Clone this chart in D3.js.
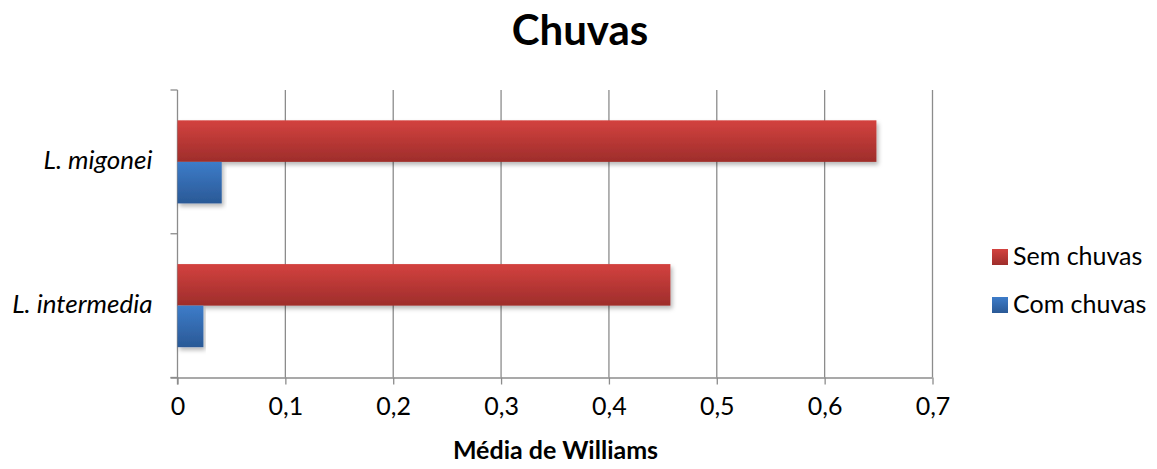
<!DOCTYPE html>
<html>
<head>
<meta charset="utf-8">
<script src="https://cdn.jsdelivr.net/npm/d3@7"></script>
<style>
  html, body { margin: 0; padding: 0; background: #fff; }
  svg { display: block; font-family: Lato, "Open Sans", sans-serif; }
</style>
</head>
<body>
<svg id="chart" width="1157" height="469"></svg>
<script>
// Chart data
const categories = ["L. migonei", "L. intermedia"];
const seriesNames = ["Sem chuvas", "Com chuvas"];
const semChuvas = [0.648, 0.457];
const comChuvas = [0.041, 0.024];
const xTicks = [0, 0.1, 0.2, 0.3, 0.4, 0.5, 0.6, 0.7];
const xTickLabels = ["0", "0,1", "0,2", "0,3", "0,4", "0,5", "0,6", "0,7"];
const chartTitle = "Chuvas";
const xAxisTitle = "Média de Williams";

const seriesValues = [semChuvas, comChuvas];
const rows = categories.map((c, i) => ({
  category: c,
  values: seriesNames.map((s, j) => ({ series: s, value: seriesValues[j][i] }))
}));

const svg = d3.select("#chart");
const plot = { left: 177.5, right: 932.5, top: 90, bottom: 377.5 };
const gridColor = "#8c8c8c";

// Gradients and shadow
const defs = svg.append("defs");
const grads = {
  "Sem chuvas": ["#d3423f", "#9e2d2b"],
  "Com chuvas": ["#3d7cc9", "#2a5996"]
};
const gradId = s => "grad-" + s.replace(/\s+/g, "-");
seriesNames.forEach(s => {
  const g = defs.append("linearGradient").attr("id", gradId(s))
    .attr("x1", 0).attr("y1", 0).attr("x2", 0).attr("y2", 1);
  g.append("stop").attr("offset", "0%").attr("stop-color", grads[s][0]);
  g.append("stop").attr("offset", "100%").attr("stop-color", grads[s][1]);
});
const shadow = defs.append("filter").attr("id", "shadow")
  .attr("x", "-5%").attr("y", "-20%").attr("width", "115%").attr("height", "160%");
shadow.append("feDropShadow").attr("dx", 2).attr("dy", 3)
  .attr("stdDeviation", 2.2).attr("flood-color", "#000").attr("flood-opacity", 0.28);

// Scales
const x = d3.scaleLinear().domain([0, 0.7]).range([plot.left, plot.right]);
const y = d3.scaleBand().domain(categories).range([plot.top, plot.bottom]).padding(0);
const ySeries = d3.scaleBand().domain(seriesNames).range([0, y.bandwidth()])
  .paddingInner(0).paddingOuter(0.73);

// Vertical gridlines
svg.append("g").selectAll("line").data(xTicks.slice(1)).join("line")
  .attr("x1", d => x(d)).attr("x2", d => x(d))
  .attr("y1", plot.top).attr("y2", plot.bottom)
  .attr("stroke", gridColor).attr("stroke-width", 1.3);

// X axis
const xAxis = svg.append("g").attr("transform", `translate(0,${plot.bottom})`)
  .call(d3.axisBottom(x).tickValues(xTicks).tickFormat((d, i) => xTickLabels[i])
    .tickSizeInner(7).tickSizeOuter(0).tickPadding(13));
xAxis.select(".domain").attr("stroke", gridColor).attr("stroke-width", 1.3)
  .attr("d", `M${plot.left - 7},0.5H${plot.right}`);
xAxis.selectAll(".tick line").attr("stroke", gridColor).attr("stroke-width", 1.3);
xAxis.selectAll(".tick text").attr("fill", "#000")
  .style("font-size", "25px").style("font-family", "Lato, sans-serif");

// Y axis
const yAxis = svg.append("g").attr("transform", `translate(${plot.left},0)`);
yAxis.append("line").attr("x1", 0).attr("x2", 0)
  .attr("y1", plot.top).attr("y2", plot.bottom + 7)
  .attr("stroke", gridColor).attr("stroke-width", 1.3);
const yEdges = [plot.top, ...categories.map(c => y(c) + y.bandwidth())];
yAxis.selectAll("line.tick").data(yEdges).join("line").attr("class", "tick")
  .attr("x1", -7).attr("x2", 0).attr("y1", d => d).attr("y2", d => d)
  .attr("stroke", gridColor).attr("stroke-width", 1.3);
yAxis.selectAll("text").data(categories).join("text")
  .attr("x", -25).attr("y", d => y(d) + y.bandwidth() / 2 + 7)
  .attr("text-anchor", "end").attr("font-style", "italic")
  .style("font-size", "26px").attr("fill", "#000").text(d => d);

// Bars
const groups = svg.append("g").selectAll("g").data(rows).join("g")
  .attr("transform", d => `translate(0,${y(d.category)})`);
groups.selectAll("rect").data(d => d.values).join("rect")
  .attr("x", x(0))
  .attr("y", d => ySeries(d.series))
  .attr("width", d => x(d.value) - x(0))
  .attr("height", ySeries.bandwidth())
  .attr("fill", d => `url(#${gradId(d.series)})`)
  .attr("filter", "url(#shadow)");

// Title
svg.append("text").attr("x", 580).attr("y", 45).attr("text-anchor", "middle")
  .style("font-size", "42px").style("font-weight", "bold").attr("fill", "#000")
  .text(chartTitle);

// Axis title
svg.append("text").attr("x", 555.5).attr("y", 459).attr("text-anchor", "middle")
  .style("font-size", "25px").style("font-weight", "bold").attr("fill", "#000")
  .text(xAxisTitle);

// Legend
const legend = svg.append("g").attr("transform", "translate(992,249)");
const li = legend.selectAll("g").data(seriesNames).join("g")
  .attr("transform", (d, i) => `translate(0,${i * 48})`);
li.append("rect").attr("width", 16).attr("height", 16)
  .attr("fill", d => `url(#${gradId(d)})`);
li.append("text").attr("x", 21).attr("y", 16).style("font-size", "25px")
  .attr("fill", "#000").text(d => d);
</script>
</body>
</html>
